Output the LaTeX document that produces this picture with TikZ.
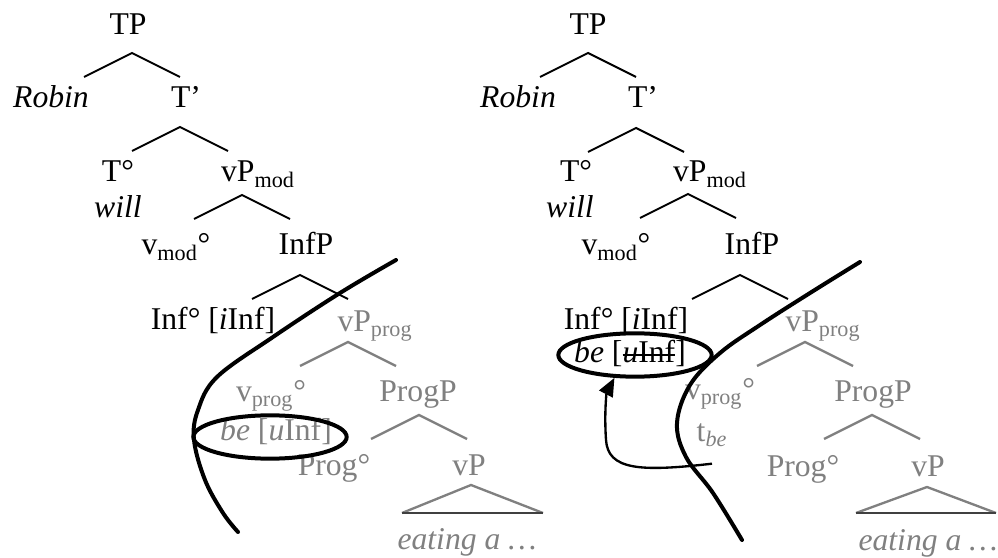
\documentclass[tikz,border=0pt]{standalone}
\usepackage{fontspec}
\setmainfont{Liberation Serif}
\usepackage{tikz}
\usetikzlibrary{shapes.geometric,arrows.meta}

\newsavebox\strkbox
\newcommand{\strk}[1]{\sbox\strkbox{#1}\rlap{\rule[0.22em]{\wd\strkbox}{0.075em}}\usebox\strkbox}
% one branching: apex at (#2,#3)
\newcommand{\fork}[3]{\draw[#1] (#2-48,#3+24) -- (#2,#3) -- (#2+48,#3+24);}

\begin{document}
\begin{tikzpicture}[x=0.6pt, y=-0.6pt,
    font=\fontsize{19}{22}\selectfont,
    lbl/.style={anchor=base, inner sep=1pt},
    gone/.style={lbl, text=gray},
    branch/.style={line width=1.2pt},
    gbranch/.style={line width=1.4pt, draw=gray},
    ring/.style={ellipse, draw, line width=2.4pt, minimum width=92pt, minimum height=26pt, inner sep=0pt},
    cut/.style={line width=2.4pt, line cap=round},
    mover/.style={line width=1.4pt, -{Triangle[length=11pt,width=9pt]}}]
    \useasboundingbox (0,0) rectangle (998,558);

    % left tree
    \node[lbl] (TPl) at (128,35) {TP};
    \node[lbl] (Robinl) at (51,108) {\textit{Robin}};
    \node[lbl] (Tbarl) at (186,108) {T’};
    \node[lbl] (Tl) at (118,182) {T°};
    \node[lbl] (willl) at (118,218) {\textit{will}};
    \node[lbl] (vPmodl) at (258,182) {vP\textsubscript{mod}};
    \node[lbl] (vmodl) at (176,255) {v\textsubscript{mod}°};
    \node[lbl] (InfPl) at (306,255) {InfP};
    \node[lbl] (Infl) at (213,330) {Inf° [\textit{i}Inf]};
    \node[gone] (vPprogl) at (375,332) {vP\textsubscript{prog}};
    \node[gone] (vprogl) at (271,402) {v\textsubscript{prog}°};
    \node[gone] (ProgPl) at (418,402) {ProgP};
    \node[gone] (bel) at (276,440) {\textit{be} [\textit{u}Inf]};
    \node[gone] (Progl) at (334,475) {Prog°};
    \node[gone] (vPl) at (469,475) {vP};
    \node[gone] (eatl) at (467,549) {\textit{eating a …}};

    \fork{branch}{132}{53}
    \fork{branch}{180}{127}
    \fork{branch}{242}{195}
    \fork{branch}{300}{275}
    \fork{gbranch}{348}{342}
    \fork{gbranch}{419}{415}
    \draw[gbranch] (402,513) -- (471,485) -- (543,513);
    \draw[line width=1.4pt, draw=black!75] (402,513) -- (543,513);

    \node[ring] (ringL) at (270,437) {};
    \draw[cut] plot[smooth, tension=0.6] coordinates {(396,260) (340,293) (273,337) (217,377) (198,410) (194,440) (205,480) (223,513) (238,532)};

    % right tree
    \node[lbl] (TPr) at (588,35) {TP};
    \node[lbl] (Robinr) at (518,108) {\textit{Robin}};
    \node[lbl] (Tbarr) at (643,108) {T’};
    \node[lbl] (Tr) at (576,182) {T°};
    \node[lbl] (willr) at (570,218) {\textit{will}};
    \node[lbl] (vPmodr) at (710,182) {vP\textsubscript{mod}};
    \node[lbl] (vmodr) at (616,255) {v\textsubscript{mod}°};
    \node[lbl] (InfPr) at (752,255) {InfP};
    \node[lbl] (Infr) at (626,330) {Inf° [\textit{i}Inf]};
    \node[lbl] (ber) at (630,363) {\textit{be} [\strk{\textit{u}Inf}]};
    \node[gone] (vPprogr) at (823,332) {vP\textsubscript{prog}};
    \node[gone] (vprogr) at (720,400) {v\textsubscript{prog}°};
    \node[gone] (tber) at (712,441) {t\textsubscript{\textit{be}}};
    \node[gone] (ProgPr) at (873,402) {ProgP};
    \node[gone] (Progr) at (803,476) {Prog°};
    \node[gone] (vPr) at (928,476) {vP};
    \node[gone] (eatr) at (928,550) {\textit{eating a …}};

    \fork{branch}{588}{53}
    \fork{branch}{636}{128}
    \fork{branch}{688}{194}
    \fork{branch}{740}{275}
    \fork{gbranch}{805}{342}
    \fork{gbranch}{872}{415}
    \draw[gbranch] (856,513) -- (927,487) -- (996,513);
    \draw[line width=1.4pt, draw=black!75] (856,513) -- (996,513);

    \node[ring] (ringR) at (635,355) {};
    \draw[cut] plot[smooth, tension=0.6] coordinates {(860,262) (810,293) (760,325) (720,353) (690,385) (677,423) (686,457) (713,493) (742,540)};

    \draw[mover] ([yshift=-9pt]tber.south) .. controls (640,472) and (608,470) .. (606,440) .. controls (604,410) and (607,392) .. (ringR.228);
\end{tikzpicture}
\end{document}
